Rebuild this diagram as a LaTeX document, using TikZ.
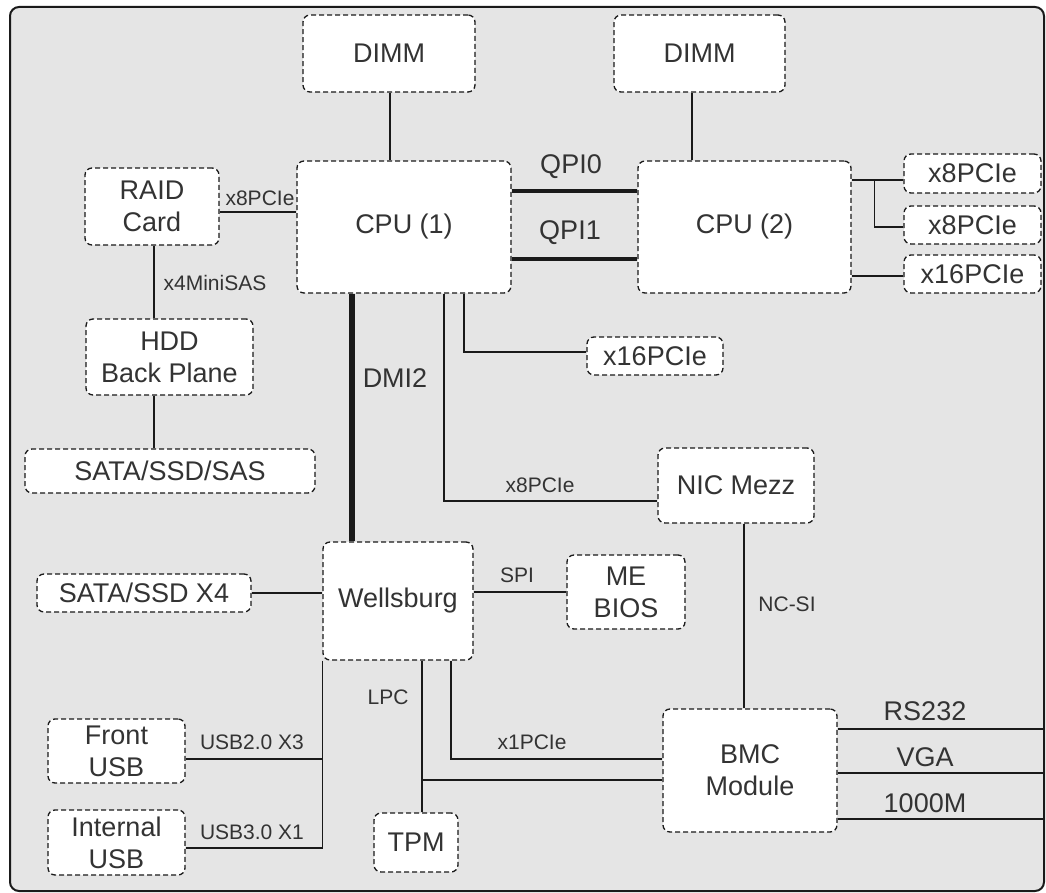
\documentclass[tikz,border=0pt]{standalone}
\usepackage{fontspec}
\setmainfont{Liberation Sans}
\definecolor{bgfill}{HTML}{E5E5E5}
\definecolor{txt}{HTML}{333333}
\definecolor{ln}{HTML}{1A1A1A}
\begin{document}
\begin{tikzpicture}[x=1pt,y=-1pt,
  box/.style={draw=ln, fill=white, line width=1.3pt, dash pattern=on 5pt off 3pt,
    rounded corners=7pt, inner sep=0pt, align=center, text=txt,
    font=\fontsize{27}{32}\selectfont},
  lbl/.style={text=txt, inner sep=0pt, font=\fontsize{27}{32}\selectfont},
  slbl/.style={text=txt, inner sep=0pt, font=\fontsize{21}{24}\selectfont},
  wire/.style={draw=ln, line width=1.5pt},
  qpi/.style={draw=ln, line width=4.5pt},
  dmi/.style={draw=ln, line width=6pt}]
\useasboundingbox (0,0) rectangle (1046,893);
\draw[fill=bgfill, draw=ln, line width=2pt, rounded corners=9pt] (10,7) rectangle (1044,891);
\coordinate (edge) at (1044,0);

% boxes
\node[box, minimum width=172pt, minimum height=77pt] (dimmA) at (389,53.5) {DIMM};
\node[box, minimum width=171pt, minimum height=77pt] (dimmB) at (699.5,53.5) {DIMM};
\node[box, minimum width=214pt, minimum height=132pt] (cpuA) at (404,227) {CPU (1)};
\node[box, minimum width=213pt, minimum height=132pt] (cpuB) at (744.5,227) {CPU (2)};
\node[box, minimum width=134pt, minimum height=77pt] (raid) at (152,206.5) {RAID\\Card};
\node[box, minimum width=167pt, minimum height=76pt] (hdd) at (169.5,357) {HDD\\Back Plane};
\node[box, minimum width=290pt, minimum height=44pt] (sas) at (170,471) {SATA/SSD/SAS};
\node[box, minimum width=214pt, minimum height=38pt] (sata4) at (144,593) {SATA/SSD X4};
\node[box, minimum width=150pt, minimum height=118pt] (wells) at (398,601) {Wellsburg};
\node[box, minimum width=118pt, minimum height=74pt] (bios) at (626,592) {ME\\BIOS};
\node[box, minimum width=156pt, minimum height=75pt] (nic) at (736,485.5) {NIC Mezz};
\node[box, minimum width=136pt, minimum height=38pt] (pcieM) at (655,356) {x16PCIe};
\node[box, minimum width=137pt, minimum height=39pt] (pcieA) at (972.5,173.5) {x8PCIe};
\node[box, minimum width=137pt, minimum height=38pt] (pcieB) at (972.5,225) {x8PCIe};
\node[box, minimum width=137pt, minimum height=38pt] (pcieC) at (972.5,274) {x16PCIe};
\node[box, minimum width=174pt, minimum height=123pt] (bmc) at (750,770.5) {BMC\\Module};
\node[box, minimum width=137pt, minimum height=64pt] (front) at (116.5,751) {Front\\USB};
\node[box, minimum width=137pt, minimum height=65pt] (intusb) at (116.5,842.5) {Internal\\USB};
\node[box, minimum width=84pt, minimum height=59pt] (tpm) at (416,842.5) {TPM};

% connectors
\draw[wire] ([xshift=1pt]dimmA.south) coordinate (da) -- (da |- cpuA.north);
\draw[wire] ([xshift=-7.5pt]dimmB.south) coordinate (db) -- (db |- cpuB.north);
\draw[qpi] ([yshift=36pt]cpuA.east) -- ([yshift=36pt]cpuB.west);
\draw[qpi] ([yshift=-32pt]cpuA.east) -- ([yshift=-32pt]cpuB.west);
\draw[wire] ([yshift=-5.5pt]raid.east) coordinate (r1) -- (r1 -| cpuA.west);
\draw[wire] ([xshift=2pt]raid.south) coordinate (r2) -- (r2 |- hdd.north);
\draw[wire] ([xshift=-15.5pt]hdd.south) coordinate (h1) -- (h1 |- sas.north);
\draw[dmi] ([xshift=-52pt]cpuA.south) coordinate (d1) -- (d1 |- wells.north);
\draw[wire] ([xshift=40pt]cpuA.south) |- ([yshift=-15.5pt]nic.west);
\draw[wire] ([xshift=60pt]cpuA.south) |- ([yshift=4pt]pcieM.west);
\draw[wire] ([yshift=-6.5pt]pcieA.west) coordinate (p1) -- (p1 -| cpuB.east);
\draw[wire] ([xshift=-29pt,yshift=-6.5pt]pcieA.west) |- ([yshift=-2pt]pcieB.west);
\draw[wire] ([yshift=-2pt]pcieC.west) coordinate (p3) -- (p3 -| cpuB.east);
\draw[wire] (sata4.east) -- (sata4.east -| wells.west);
\draw[wire] (bios.west -| wells.east) -- (bios.west);
\draw[wire] ([xshift=8pt]nic.south) coordinate (n1) -- (n1 |- bmc.north);
\draw[wire] (wells.south west) |- ([yshift=-5.5pt]intusb.east);
\draw[wire] ([yshift=-8pt]front.east) coordinate (f1) -- (f1 -| wells.south west);
\draw[wire] ([xshift=24pt]wells.south) coordinate (lpc) -- (lpc |- tpm.north);
\draw[wire] ([yshift=-9.5pt]bmc.west) coordinate (b2) -- (b2 -| lpc);
\draw[wire] ([xshift=53pt]wells.south) |- ([yshift=11.5pt]bmc.west);
\draw[wire] ([yshift=41.5pt]bmc.east) coordinate (o1) -- (o1 -| edge);
\draw[wire] ([yshift=-2.5pt]bmc.east) coordinate (o2) -- (o2 -| edge);
\draw[wire] ([yshift=-48.5pt]bmc.east) coordinate (o3) -- (o3 -| edge);

% labels
\node[slbl] (l1) at (260,198) {x8PCIe};
\node[slbl] (l2) at (215,283) {x4MiniSAS};
\node[lbl] (l3) at (571,167) {QPI0};
\node[lbl] (l4) at (570,233) {QPI1};
\node[lbl] (l5) at (395,378) {DMI2};
\node[slbl] (l6) at (540,485) {x8PCIe};
\node[slbl] (l7) at (517,575) {SPI};
\node[slbl] (l8) at (787,604) {NC-SI};
\node[slbl] (l9) at (388,697) {LPC};
\node[slbl] (l10) at (532,742) {x1PCIe};
\node[slbl] (l11) at (252,742) {USB2.0 X3};
\node[slbl] (l12) at (252,832) {USB3.0 X1};
\node[lbl] (l13) at (925,711) {RS232};
\node[lbl] (l14) at (925,757) {VGA};
\node[lbl] (l15) at (925,803) {1000M};
\end{tikzpicture}
\end{document}
